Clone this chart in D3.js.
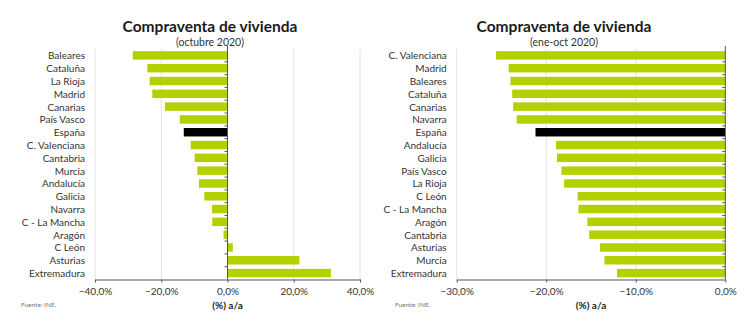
<!DOCTYPE html>
<html>
<head>
<meta charset="utf-8">
<script src="https://cdn.jsdelivr.net/npm/d3@7"></script>
<style>
  html, body { margin: 0; padding: 0; background: #ffffff; }
  svg { display: block; }
  text { font-family: Lato, "Open Sans", sans-serif; }
</style>
</head>
<body>
<svg id="chart" width="753" height="329"></svg>
<script>
// Compraventa de vivienda, variación interanual (%)
const monthRegions = ["Baleares", "Cataluña", "La Rioja", "Madrid", "Canarias", "País Vasco", "España",
  "C. Valenciana", "Cantabria", "Murcia", "Andalucía", "Galicia", "Navarra", "C - La Mancha",
  "Aragón", "C León", "Asturias", "Extremadura"];
const monthValues = [-28.6, -24.2, -23.5, -22.7, -18.9, -14.4, -13.2,
  -11.1, -9.9, -9.1, -8.6, -7.0, -4.7, -4.6,
  -1.2, 1.6, 21.7, 31.2];
const monthTicks = [-40, -20, 0, 20, 40];

const ytdRegions = ["C. Valenciana", "Madrid", "Baleares", "Cataluña", "Canarias", "Navarra", "España",
  "Andalucía", "Galicia", "País Vasco", "La Rioja", "C León", "C - La Mancha", "Aragón",
  "Cantabria", "Asturias", "Murcia", "Extremadura"];
const ytdValues = [-25.6, -24.2, -24.0, -23.8, -23.7, -23.3, -21.2,
  -18.9, -18.8, -18.3, -18.0, -16.5, -16.4, -15.4,
  -15.2, -14.0, -13.5, -12.1];
const ytdTicks = [-30, -20, -10, 0];

const titles = ["Compraventa de vivienda", "Compraventa de vivienda"];
const subtitles = ["(octubre 2020)", "(ene-oct 2020)"];
const axisTitle = "(%) a/a";
const source = "Fuente: INE.";

const GREEN = "#b3d000";
const BLACK = "#000000";
const TOTAL = "España";

const locale = d3.formatLocale({ decimal: ",", thousands: ".", grouping: [3], currency: ["", "€"] });
const pct = v => locale.format(".1f")(v) + "%";

const svg = d3.select("#chart");

function drawPanel(cfg) {
  const { cats, vals, ticks, domain, x0, x1, title, subtitle, titleX, srcX } = cfg;
  const top = 49, bottom = 279.5;
  const g = svg.append("g");

  const x = d3.scaleLinear().domain(domain).range([x0, x1]);
  const y = d3.scaleBand().domain(cats).range([top, bottom]).paddingInner(0.34).paddingOuter(0.17);

  // title block
  g.append("text").attr("x", titleX).attr("y", 32).attr("text-anchor", "middle")
    .style("font-size", "15.5px").style("font-weight", "bold").attr("fill", "#1a1a1a").text(title);
  g.append("text").attr("x", titleX).attr("y", 45.5).attr("text-anchor", "middle")
    .style("font-size", "10.5px").attr("fill", "#333").text(subtitle);

  // vertical gridlines
  g.append("g").selectAll("line").data(ticks.filter(t => t !== 0)).join("line")
    .attr("x1", d => x(d)).attr("x2", d => x(d)).attr("y1", top).attr("y2", bottom)
    .attr("stroke", "#e2e2e2").attr("stroke-width", 1);

  // bars
  g.append("g").selectAll("rect").data(cats.map((c, i) => ({ c, v: vals[i] }))).join("rect")
    .attr("x", d => x(Math.min(0, d.v)))
    .attr("width", d => Math.abs(x(d.v) - x(0)))
    .attr("y", d => y(d.c))
    .attr("height", y.bandwidth())
    .attr("fill", d => d.c === TOTAL ? BLACK : GREEN);

  // category labels
  g.append("g").selectAll("text").data(cats).join("text")
    .attr("x", x0 - 10).attr("y", d => y(d) + y.bandwidth() / 2)
    .attr("text-anchor", "end").attr("dominant-baseline", "central")
    .style("font-size", "10px").attr("fill", "#333").text(d => d);

  // zero line with category separators
  const zx = x(0);
  g.append("line").attr("x1", zx).attr("x2", zx).attr("y1", top - 3).attr("y2", bottom)
    .attr("stroke", "#555").attr("stroke-width", 1);
  const gap = y.step() * y.paddingInner() / 2;
  g.append("g").selectAll("line").data(cats.slice(1)).join("line")
    .attr("x1", zx - 3).attr("x2", zx)
    .attr("y1", d => y(d) - gap).attr("y2", d => y(d) - gap)
    .attr("stroke", "#555").attr("stroke-width", 1);

  // value axis
  const ax = g.append("g").attr("transform", `translate(0,${bottom})`)
    .call(d3.axisBottom(x).tickValues(ticks).tickFormat(pct).tickSize(3).tickSizeOuter(0).tickPadding(5));
  ax.select(".domain").attr("stroke", "#555");
  ax.selectAll(".tick line").attr("stroke", "#555");
  ax.selectAll(".tick text").style("font-size", "10px").attr("fill", "#333")
    .style("font-family", "Lato, 'Open Sans', sans-serif");

  g.append("text").attr("x", (x0 + x1) / 2).attr("y", 309).attr("text-anchor", "middle")
    .style("font-size", "10px").style("font-weight", "bold").attr("fill", "#222").text(axisTitle);

  g.append("text").attr("x", srcX).attr("y", 307).style("font-size", "6.5px").attr("fill", "#777").text(source);
}

drawPanel({ cats: monthRegions, vals: monthValues, ticks: monthTicks, domain: [-40, 40],
  x0: 95, x1: 360, title: titles[0], subtitle: subtitles[0], titleX: 210, srcX: 21 });
drawPanel({ cats: ytdRegions, vals: ytdValues, ticks: ytdTicks, domain: [-30, 0],
  x0: 456.7, x1: 725.3, title: titles[1], subtitle: subtitles[1], titleX: 564, srcX: 395 });
</script>
</body>
</html>
